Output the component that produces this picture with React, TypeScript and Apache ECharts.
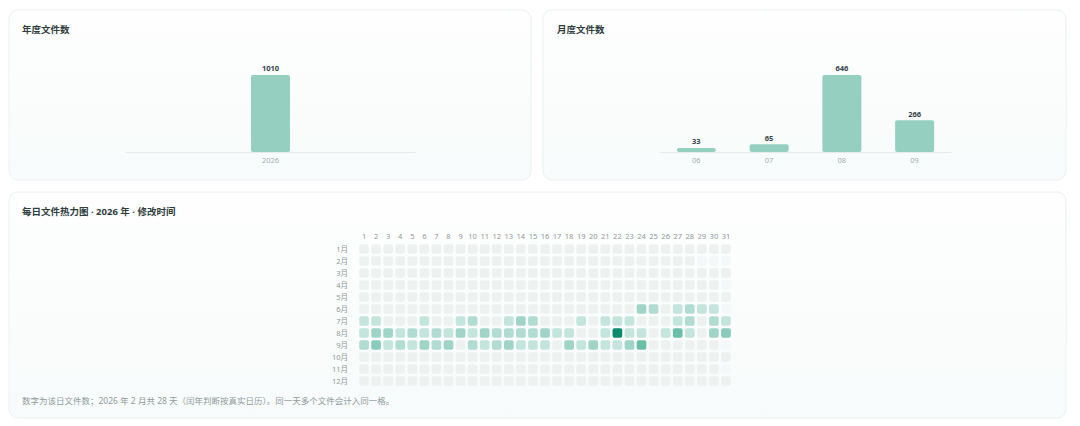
import React, { useEffect, useRef } from "react";
import * as echarts from "echarts";

// ---------- data ----------
const yearCategories: string[] = ["2026"];
const yearValues: number[] = [1010];

const monthCategories: string[] = ["06", "07", "08", "09"];
const monthValues: number[] = [33, 65, 646, 266];

const dayLabels: string[] = [
  "1", "2", "3", "4", "5", "6", "7", "8", "9", "10", "11", "12", "13", "14", "15", "16",
  "17", "18", "19", "20", "21", "22", "23", "24", "25", "26", "27", "28", "29", "30", "31",
];
const monthLabels: string[] = ["1月", "2月", "3月", "4月", "5月", "6月", "7月", "8月", "9月", "10月", "11月", "12月"];
const daysInMonth: number[] = [31, 28, 31, 30, 31, 30, 31, 31, 30, 31, 30, 31];

// [day, count] per month with files
const junDaily: number[][] = [[24, 10], [25, 6], [27, 4], [28, 6], [29, 3], [30, 4]];
const julDaily: number[][] = [
  [1, 4], [2, 2], [6, 3], [9, 3], [10, 6], [13, 4], [14, 10], [15, 6], [19, 3], [21, 2],
  [22, 3], [23, 3], [27, 3], [28, 5], [30, 6], [31, 2],
];
const augDaily: number[][] = [
  [1, 4], [2, 15], [3, 16], [4, 3], [5, 7], [6, 4], [7, 8], [8, 3], [9, 14], [10, 4],
  [11, 17], [12, 6], [13, 7], [14, 8], [15, 7], [16, 13], [17, 4], [18, 3], [21, 3], [22, 388],
  [23, 4], [24, 3], [26, 4], [27, 55], [28, 3], [30, 15], [31, 28],
];
const sepDaily: number[][] = [
  [1, 7], [2, 35], [3, 3], [4, 8], [5, 4], [6, 16], [7, 6], [8, 15], [10, 9], [11, 4],
  [12, 7], [13, 17], [14, 3], [15, 3], [16, 4], [18, 14], [19, 3], [20, 15], [21, 4], [22, 3],
  [23, 16], [24, 70],
];
const dailyByMonth: Record<number, number[][]> = { 5: junDaily, 6: julDaily, 7: augDaily, 8: sepDaily };

// ---------- styles ----------
const FONT = '"Noto Sans", "Noto Sans CJK SC", sans-serif';
const BAR_COLOR = "#95cfc0";
const TITLE_COLOR = "#2e3c3c";
const LABEL_COLOR = "#a3afaf";

function buildHeatData(): number[][] {
  const out: number[][] = [];
  for (let m = 0; m < 12; m++) {
    const map = new Map<number, number>();
    (dailyByMonth[m] || []).forEach(([d, c]) => map.set(d, c));
    for (let d = 1; d <= 31; d++) {
      const v = d > daysInMonth[m] ? -1 : map.get(d) ?? 0;
      out.push([d - 1, m, v]);
    }
  }
  return out;
}

function card(x: number, y: number, w: number, h: number) {
  return {
    type: "rect",
    z: -10,
    shape: { x, y, width: w, height: h, r: 9 },
    style: {
      fill: new echarts.graphic.LinearGradient(0, 0, 0, 1, [
        { offset: 0, color: "#fefefe" },
        { offset: 1, color: "#f8fbfb" },
      ]),
      stroke: "#ebf0f0",
      lineWidth: 1,
    },
  };
}

export default function App() {
  const ref = useRef<HTMLDivElement>(null);

  useEffect(() => {
    if (!ref.current) return;
    const chart = echarts.init(ref.current, undefined, { renderer: "svg" });

    const titleStyle = { fontSize: 9.5, fontWeight: "bold", color: TITLE_COLOR, fontFamily: FONT };

    const barLabel = {
      show: true,
      position: "top",
      distance: 3,
      fontSize: 7.5,
      fontWeight: "bold",
      color: "#34434a",
      fontFamily: FONT,
    };

    const option: any = {
      animation: false,
      backgroundColor: "#ffffff",
      textStyle: { fontFamily: FONT },
      graphic: [card(9, 10, 522, 170), card(543, 10, 523, 170), card(9, 192, 1057, 226)],
      title: [
        { text: "年度文件数", left: 22, top: 25, padding: 0, textStyle: titleStyle },
        { text: "月度文件数", left: 557, top: 25, padding: 0, textStyle: titleStyle },
        { text: "每日文件热力图 · 2026 年 · 修改时间", left: 22, top: 207, padding: 0, textStyle: titleStyle },
        {
          text: "数字为该日文件数；2026 年 2 月共 28 天（闰年判断按真实日历）。同一天多个文件会计入同一格。",
          left: 22,
          top: 396,
          padding: 0,
          textStyle: { fontSize: 8.5, fontWeight: "normal", color: "#8e9b9b", fontFamily: FONT },
        },
      ],
      grid: [
        { left: 126, top: 75, width: 289, height: 77 },
        { left: 660, top: 75, width: 291, height: 77 },
        { left: 358, top: 243, width: 374, height: 144 },
      ],
      xAxis: [
        {
          type: "category",
          gridIndex: 0,
          data: yearCategories,
          axisLine: { lineStyle: { color: "#e4ebeb" } },
          axisTick: { show: false },
          axisLabel: { color: LABEL_COLOR, fontSize: 7.5, margin: 4 },
        },
        {
          type: "category",
          gridIndex: 1,
          data: monthCategories,
          axisLine: { lineStyle: { color: "#e4ebeb" } },
          axisTick: { show: false },
          axisLabel: { color: LABEL_COLOR, fontSize: 7.5, margin: 4 },
        },
        {
          type: "category",
          gridIndex: 2,
          position: "top",
          data: dayLabels,
          axisLine: { show: false },
          axisTick: { show: false },
          splitLine: { show: false },
          axisLabel: { color: "#8d9999", fontSize: 7.5, margin: 3, interval: 0 },
        },
      ],
      yAxis: [
        { type: "value", gridIndex: 0, min: 0, max: "dataMax", show: false },
        { type: "value", gridIndex: 1, min: 0, max: "dataMax", show: false },
        {
          type: "category",
          gridIndex: 2,
          inverse: true,
          data: monthLabels,
          axisLine: { show: false },
          axisTick: { show: false },
          splitLine: { show: false },
          axisLabel: { color: "#8d9999", fontSize: 7.5, margin: 10, interval: 0 },
        },
      ],
      visualMap: {
        type: "piecewise",
        show: false,
        seriesIndex: 2,
        dimension: 2,
        pieces: [
          { value: -1, color: "#f5f8f8" },
          { value: 0, color: "#edf2f1" },
          { min: 1, max: 4, color: "#c4e5dc" },
          { min: 5, max: 9, color: "#b1dcd1" },
          { min: 10, max: 19, color: "#9fd4c6" },
          { min: 20, max: 39, color: "#8acbbb" },
          { min: 40, max: 79, color: "#6bbfa9" },
          { min: 80, color: "#0b8a6e" },
        ],
      },
      series: [
        {
          type: "bar",
          xAxisIndex: 0,
          yAxisIndex: 0,
          data: yearValues,
          barWidth: 39,
          itemStyle: { color: BAR_COLOR, borderRadius: 2 },
          label: barLabel,
        },
        {
          type: "bar",
          xAxisIndex: 1,
          yAxisIndex: 1,
          data: monthValues,
          barWidth: 39,
          itemStyle: { color: BAR_COLOR, borderRadius: 2 },
          label: barLabel,
        },
        {
          type: "custom",
          xAxisIndex: 2,
          yAxisIndex: 2,
          data: buildHeatData(),
          encode: { x: 0, y: 1 },
          renderItem: (_params: any, api: any) => {
            const c = api.coord([api.value(0), api.value(1)]);
            const s = api.size([1, 1]);
            const w = s[0] - 2.4;
            const h = s[1] - 2.4;
            return {
              type: "rect",
              shape: { x: c[0] - w / 2, y: c[1] - h / 2, width: w, height: h, r: 2 },
              style: { fill: api.visual("color") },
            };
          },
        },
      ],
    };

    chart.setOption(option);
    return () => chart.dispose();
  }, []);

  return (
    <div
      ref={ref}
      style={{ position: "fixed", left: 0, top: 0, width: 1080, height: 426, background: "#ffffff" }}
    />
  );
}
